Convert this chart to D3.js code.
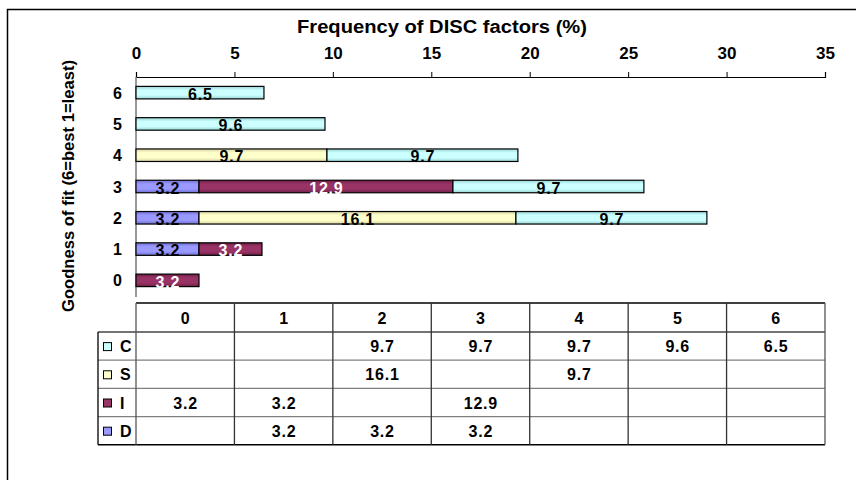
<!DOCTYPE html>
<html>
<head>
<meta charset="utf-8">
<script src="https://cdn.jsdelivr.net/npm/d3@7"></script>
<style>
  html, body { margin: 0; padding: 0; background: #fff; }
  svg { display: block; font-family: "Liberation Sans", Arial, sans-serif; font-weight: bold; }
</style>
</head>
<body>
<svg id="chart" width="856" height="480"></svg>
<script>
// Goodness-of-fit levels (rows of the bar chart, columns of the table)
const levels = ["0", "1", "2", "3", "4", "5", "6"];
// DISC factor series, frequency in % per level (null = no value)
const seriesNames = ["D", "I", "S", "C"];
const valuesD = [null, 3.2, 3.2, 3.2, null, null, null];
const valuesI = [3.2, 3.2, null, 12.9, null, null, null];
const valuesS = [null, null, 16.1, null, 9.7, null, null];
const valuesC = [null, null, 9.7, 9.7, 9.7, 9.6, 6.5];
const xTicks = [0, 5, 10, 15, 20, 25, 30, 35];
const xTitle = "Frequency of DISC factors (%)";
const yTitle = "Goodness of fit (6=best 1=least)";

const seriesValues = { D: valuesD, I: valuesI, S: valuesS, C: valuesC };
const colors = { D: "#9999ff", I: "#993366", S: "#ffffcc", C: "#ccffff" };
const edgeColors = { D: "#7070d0", I: "#6e1f47", S: "#d8d4a0", C: "#98d4d4" };
const labelColors = { D: "#000", I: "#fff", S: "#000", C: "#000" };

const svg = d3.select("#chart");

// outer chart frame (extends past the right/bottom edges)
svg.append("rect")
  .attr("x", 7.5).attr("y", 9.5)
  .attr("width", 900).attr("height", 520)
  .attr("fill", "none").attr("stroke", "#000").attr("stroke-width", 1.5);

const x = d3.scaleLinear().domain([0, 35]).range([136, 825]);
const y = d3.scaleBand().domain(levels.slice().reverse()).range([77, 296]).paddingInner(0.6).paddingOuter(0.3);

// shaded fills for the bars
const defs = svg.append("defs");
seriesNames.forEach(s => {
  const g = defs.append("linearGradient").attr("id", "grad-" + s)
    .attr("x1", 0).attr("y1", 0).attr("x2", 0).attr("y2", 1);
  g.append("stop").attr("offset", "0%").attr("stop-color", edgeColors[s]);
  g.append("stop").attr("offset", "30%").attr("stop-color", colors[s]);
  g.append("stop").attr("offset", "70%").attr("stop-color", colors[s]);
  g.append("stop").attr("offset", "100%").attr("stop-color", edgeColors[s]);
});

// stacked data
const rows = levels.map((lv, i) => {
  const r = { level: lv };
  seriesNames.forEach(s => r[s] = seriesValues[s][i] || 0);
  return r;
});
const stacked = d3.stack().keys(seriesNames)(rows);

// title
svg.append("text")
  .attr("x", 442).attr("y", 33)
  .attr("text-anchor", "middle")
  .attr("font-size", 18)
  .attr("textLength", 290).attr("lengthAdjust", "spacingAndGlyphs")
  .text(xTitle);

// top x axis
const xAxis = d3.axisTop(x).tickValues(xTicks).tickSize(5).tickPadding(13);
const gx = svg.append("g").attr("transform", "translate(0,77)").call(xAxis);
gx.select(".domain").attr("stroke", "#000").attr("stroke-width", 1.2);
gx.selectAll(".tick line").attr("stroke", "#000");
gx.selectAll(".tick text").attr("font-size", 17).attr("font-weight", "bold")
  .attr("font-family", "Liberation Sans, Arial, sans-serif").attr("fill", "#000");

// left y axis
svg.append("line")
  .attr("x1", 136).attr("x2", 136).attr("y1", 77).attr("y2", 297)
  .attr("stroke", "#777").attr("stroke-width", 1.5);
svg.append("g").selectAll("text").data(levels).join("text")
  .attr("x", 122).attr("y", d => y(d) + y.bandwidth() / 2)
  .attr("dy", "0.38em")
  .attr("text-anchor", "end")
  .attr("font-size", 16)
  .text(d => d);

// y axis title
svg.append("text")
  .attr("transform", "translate(74,186) rotate(-90)")
  .attr("text-anchor", "middle")
  .attr("font-size", 16)
  .attr("textLength", 252).attr("lengthAdjust", "spacingAndGlyphs")
  .text(yTitle);

// bars
const layers = svg.append("g").selectAll("g").data(stacked).join("g");
layers.each(function(layer) {
  const key = layer.key;
  const segs = layer.filter(d => d[1] - d[0] > 0);
  d3.select(this).selectAll("rect").data(segs).join("rect")
    .attr("x", d => x(d[0]))
    .attr("y", d => y(d.data.level))
    .attr("width", d => x(d[1]) - x(d[0]))
    .attr("height", y.bandwidth())
    .attr("fill", "url(#grad-" + key + ")")
    .attr("stroke", "#000").attr("stroke-width", 1.2);
  d3.select(this).selectAll("text").data(segs).join("text")
    .attr("x", d => (x(d[0]) + x(d[1])) / 2 + 0.4)
    .attr("y", d => y(d.data.level) + y.bandwidth() / 2)
    .attr("dy", "0.45em")
    .attr("text-anchor", "middle")
    .attr("font-size", 16)
    .attr("letter-spacing", 0.8)
    .attr("fill", labelColors[key])
    .text(d => d.data[key].toFixed(1));
});

// data table under the chart
const tableRows = ["C", "S", "I", "D"];
const tTop = 303, headH = 29, rowH = 28.2, legendLeft = 98;
const colX = levels.map((lv, i) => x(i * 5));
const tRight = x(35);
const tBottom = tTop + headH + rowH * tableRows.length;
const tg = svg.append("g");

// horizontal lines
tg.append("line").attr("x1", x(0)).attr("x2", tRight).attr("y1", tTop).attr("y2", tTop)
  .attr("stroke", "#000").attr("stroke-width", 1.3);
tableRows.forEach((r, i) => {
  const yy = tTop + headH + rowH * i;
  tg.append("line").attr("x1", legendLeft).attr("x2", tRight).attr("y1", yy).attr("y2", yy)
    .attr("stroke", i === 0 ? "#444" : "#808080").attr("stroke-width", 1.3);
});
tg.append("line").attr("x1", legendLeft).attr("x2", tRight).attr("y1", tBottom).attr("y2", tBottom)
  .attr("stroke", "#000").attr("stroke-width", 1.5);

// vertical lines
tg.append("line").attr("x1", legendLeft).attr("x2", legendLeft).attr("y1", tTop + headH).attr("y2", tBottom)
  .attr("stroke", "#000").attr("stroke-width", 1.3);
colX.concat([tRight]).forEach((cx, i) => {
  tg.append("line").attr("x1", cx).attr("x2", cx).attr("y1", tTop).attr("y2", tBottom)
    .attr("stroke", i === 0 || i === 7 ? "#555" : "#333").attr("stroke-width", 1.3);
});

// header labels
const colW = x(5) - x(0);
tg.selectAll("text.head").data(levels).join("text")
  .attr("class", "head")
  .attr("x", (d, i) => colX[i] + colW / 2)
  .attr("y", tTop + headH / 2)
  .attr("dy", "0.38em")
  .attr("text-anchor", "middle")
  .attr("font-size", 16)
  .text(d => d);

// legend keys and values
tableRows.forEach((r, ri) => {
  const cy = tTop + headH + rowH * ri + rowH / 2;
  tg.append("rect")
    .attr("x", 103.5).attr("y", cy - 3.5).attr("width", 8).attr("height", 8)
    .attr("fill", colors[r]).attr("stroke", "#000").attr("stroke-width", 1);
  tg.append("text")
    .attr("x", 120).attr("y", cy).attr("dy", "0.38em")
    .attr("font-size", 16)
    .text(r);
  seriesValues[r].forEach((v, ci) => {
    if (v == null) return;
    tg.append("text")
      .attr("x", colX[ci] + colW / 2 + 0.4).attr("y", cy).attr("dy", "0.38em")
      .attr("text-anchor", "middle")
      .attr("font-size", 16)
      .attr("letter-spacing", 0.8)
      .text(v.toFixed(1));
  });
});
</script>
</body>
</html>
